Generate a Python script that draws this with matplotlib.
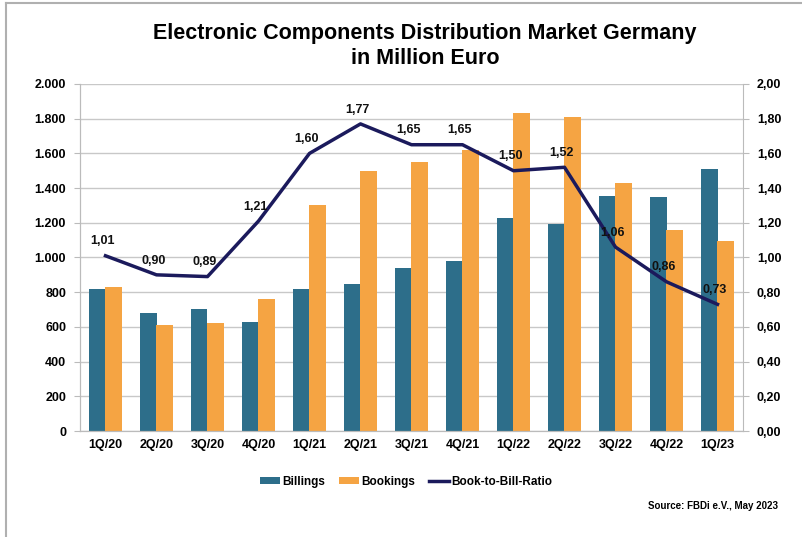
import matplotlib.pyplot as plt
import numpy as np
from matplotlib.lines import Line2D
from matplotlib.ticker import FuncFormatter

plt.rcParams["font.family"] = ["Liberation Sans", "DejaVu Sans"]
plt.rcParams["font.weight"] = "bold"

quarters = ["1Q/20", "2Q/20", "3Q/20", "4Q/20", "1Q/21", "2Q/21", "3Q/21",
            "4Q/21", "1Q/22", "2Q/22", "3Q/22", "4Q/22", "1Q/23"]
billings = [820, 680, 705, 630, 820, 850, 940, 980, 1225, 1195, 1355, 1350, 1510]
bookings = [830, 610, 625, 760, 1305, 1500, 1550, 1620, 1835, 1810, 1430, 1158, 1097]
ratio = [1.01, 0.90, 0.89, 1.21, 1.60, 1.77, 1.65, 1.65, 1.50, 1.52, 1.06, 0.86, 0.73]

BILL_COL = "#2d6e8a"
BOOK_COL = "#f5a443"
LINE_COL = "#1b1a5c"

fig = plt.figure(figsize=(8.03, 5.37), dpi=100)
ax = fig.add_axes([80 / 803, 1 - 431 / 537, 663 / 803, 347 / 537])
ax2 = ax.twinx()

x = np.arange(len(quarters))
w = 0.33
ax.bar(x - w / 2, billings, w, color=BILL_COL, label="Billings", zorder=2)
ax.bar(x + w / 2, bookings, w, color=BOOK_COL, label="Bookings", zorder=2)
ax.set_xlim(-0.5, len(quarters) - 0.5)
ax.set_ylim(0, 2000)
ax.set_yticks(np.arange(0, 2001, 200))
ax.yaxis.set_major_formatter(FuncFormatter(lambda v, p: f"{int(v):,}".replace(",", ".")))
ax.grid(axis="y", color="#c8c8c8", linewidth=1, zorder=0)
ax.set_axisbelow(True)
ax.set_xticks(x)
ax.set_xticklabels(quarters)
ax.tick_params(axis="x", length=0, pad=6, labelsize=9)
ax.tick_params(axis="y", length=4, color="#bbbbbb", labelsize=9, pad=6)

ax2.plot(x, ratio, color=LINE_COL, linewidth=2.5, label="Book-to-Bill-Ratio", zorder=3)
ax2.set_ylim(0, 2.0)
ax2.set_yticks(np.arange(0, 2.01, 0.2))
ax2.yaxis.set_major_formatter(FuncFormatter(lambda v, p: f"{v:.2f}".replace(".", ",")))
ax2.tick_params(axis="y", length=4, color="#bbbbbb", labelsize=9, pad=6)
for xi, r in zip(x, ratio):
    ax2.annotate(f"{r:.2f}".replace(".", ","), (xi, r), xytext=(-2, 6),
                 textcoords="offset points", ha="center", va="bottom",
                 fontsize=9, fontweight="bold", color="#111111")

for a in (ax, ax2):
    a.spines["top"].set_visible(False)
    a.spines["left"].set_color("#bbbbbb")
    a.spines["right"].set_color("#bbbbbb")
    a.spines["bottom"].set_color("#bbbbbb")
ax.spines["right"].set_visible(False)

fig.text(425 / 803, 1 - 33 / 537, "Electronic Components Distribution Market Germany",
         ha="center", va="center", fontsize=15.5, fontweight="bold")
fig.text(425 / 803, 1 - 58 / 537, "in Million Euro",
         ha="center", va="center", fontsize=15.5, fontweight="bold")

h1, l1 = ax.get_legend_handles_labels()
h2, l2 = ax2.get_legend_handles_labels()
fig.legend(h1 + h2, l1 + l2, loc="center", bbox_to_anchor=(406 / 803, 1 - 482 / 537),
           ncol=3, frameon=False, fontsize=8.5, handlelength=1.7, handleheight=0.5,
           columnspacing=1.2, handletextpad=0.15)

fig.text(778 / 803, 1 - 506 / 537, "Source: FBDi e.V., May 2023",
         ha="right", va="center", fontsize=7, fontweight="bold")

# frame lines on top and left edge
fig.add_artist(Line2D([6 / 803, 1], [1 - 3 / 537, 1 - 3 / 537], transform=fig.transFigure,
                      color="#b0b0b0", linewidth=1.5))
fig.add_artist(Line2D([6 / 803, 6 / 803], [0, 1 - 3 / 537], transform=fig.transFigure,
                      color="#b0b0b0", linewidth=1.5))

fig.savefig("out.png", dpi=100)
